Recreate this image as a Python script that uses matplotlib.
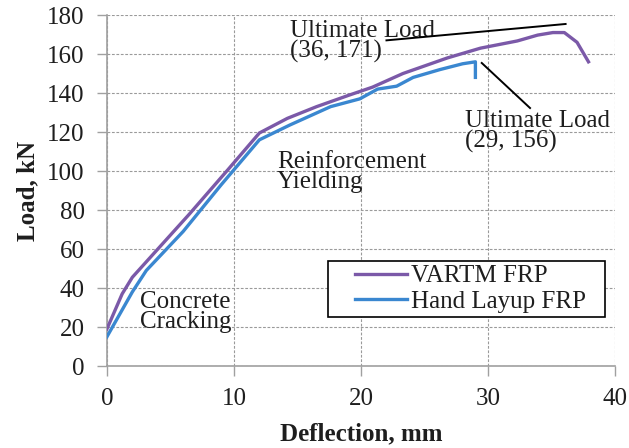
import matplotlib
matplotlib.use("Agg")
import matplotlib.pyplot as plt
from matplotlib.legend_handler import HandlerLine2D

# Load-deflection data (deflection in mm, load in kN)
vartm_defl = [0.0, 1.2, 2.0, 6.5, 9.5, 12.0, 14.2, 16.5, 19.1, 20.9, 23.3, 26.8, 29.4, 32.3, 33.9, 35.1, 36.0, 37.0, 37.9]
vartm_load = [19, 37, 45.5, 78, 100.5, 119.5, 127, 133, 139, 143, 150, 158, 163, 166.7, 169.7, 171, 171, 166, 156]

hand_defl = [0.0, 2.0, 3.1, 6.0, 9.0, 12.0, 14.4, 17.6, 19.9, 21.3, 22.8, 24.1, 26.2, 28.0, 29.0, 29.0]
hand_load = [15, 38, 49, 69, 93, 116, 123.6, 133, 137, 142, 143.5, 148, 152, 155, 156, 148]

x_ticks = [0, 10, 20, 30, 40]
y_ticks = list(range(0, 181, 20))


class LeadingGapLine(HandlerLine2D):
    """Legend line handle that leaves a blank lead-in before the stroke."""

    def __init__(self, lead=0.3, **kw):
        super().__init__(**kw)
        self.lead = lead

    def create_artists(self, legend, orig_handle, xdescent, ydescent,
                       width, height, fontsize, trans):
        gap = self.lead * width
        return super().create_artists(legend, orig_handle, xdescent - gap, ydescent,
                                      width - gap, height, fontsize, trans)


plt.rcParams["font.family"] = ["Liberation Serif", "DejaVu Serif"]

fig = plt.figure(figsize=(6.29, 4.48), dpi=100)
ax = fig.add_axes([0.170, 0.183, 0.808, 0.7835])

purple = "#7B59A8"
blue = "#3A87D0"
ink = "#1e1e1e"

ax.plot(vartm_defl, vartm_load, color=purple, lw=2.4, label="VARTM FRP", solid_joinstyle="round", zorder=3)
ax.plot(hand_defl, hand_load, color=blue, lw=2.4, label="Hand Layup FRP", solid_joinstyle="round", zorder=3)

ax.set_xlim(0, 40)
ax.set_ylim(0, 180)
ax.set_xticks(x_ticks)
ax.set_yticks(y_ticks)
ax.grid(True, color="#9a9a9a", linestyle=(0, (2.5, 1.5)), linewidth=0.8)
ax.set_axisbelow(True)

for side in ("top", "right"):
    ax.spines[side].set_visible(False)
for side in ("left", "bottom"):
    ax.spines[side].set_color("#a0a0a0")
    ax.spines[side].set_linewidth(1.2)
ax.tick_params(direction="out", length=7, width=1.0, color="#a0a0a0", labelsize=18, labelcolor=ink, pad=9)

ax.set_xlabel("Deflection, mm", fontsize=18, fontweight="bold", labelpad=9, color=ink)
ax.set_ylabel("Load, kN", fontsize=18, fontweight="bold", labelpad=6, color=ink)

text_kw = dict(fontsize=18, color=ink, linespacing=0.88, va="top", ha="left")

# VARTM ultimate load annotation
ax.plot([22.0, 36.1], [167, 175.4], color="black", lw=1.4, zorder=4)
ax.text(14.4, 177.5, "Ultimate Load\n(36, 171)", **text_kw)

# Hand layup ultimate load annotation
ax.plot([29.5, 33.3], [155.4, 132.3], color="black", lw=1.4, zorder=4)
ax.text(28.2, 131.3, "Ultimate Load\n(29, 156)", **text_kw)

ax.text(13.4, 110.2, "Reinforcement\nYielding", **text_kw)
ax.text(2.6, 38.4, "Concrete\nCracking", **text_kw)

leg = ax.legend(loc="upper left", bbox_to_anchor=(0.435, 0.0, 0.545, 0.299), mode="expand",
                fontsize=18, frameon=True, fancybox=False, edgecolor="black", framealpha=1,
                handlelength=3.0, handletextpad=0.15, borderpad=0.15, labelspacing=0.12,
                borderaxespad=0, handler_map={plt.Line2D: LeadingGapLine(lead=0.31)})
leg.get_frame().set_linewidth(1.2)
for t in leg.get_texts():
    t.set_color(ink)

fig.savefig("out.png", dpi=100)
